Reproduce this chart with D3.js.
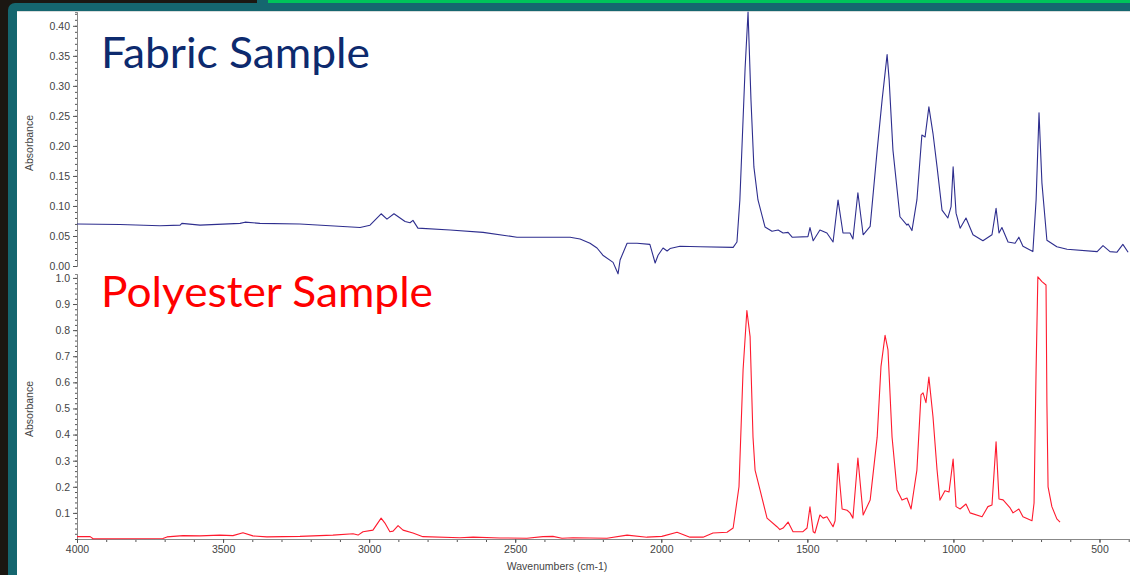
<!DOCTYPE html>
<html>
<head>
<meta charset="utf-8">
<script src="https://cdn.jsdelivr.net/npm/d3@7"></script>
<style>
  body { margin: 0; background: #1b1712; }
  svg { display: block; }
</style>
</head>
<body>
<svg width="1130" height="575"></svg>
<script>
// fabric sample spectrum (top panel)
var fabricWn = [4000, 3853, 3716, 3647, 3641, 3579, 3442, 3425, 3374, 3237, 3134, 3031, 2997, 2959, 2939, 2915, 2877, 2860, 2850, 2833,
    2723, 2610, 2494, 2312, 2278, 2244, 2220, 2200, 2165, 2148, 2141, 2117, 2083, 2039, 2021, 2011, 1994, 1980, 1970, 1936, 1867, 1754,
    1741, 1731, 1713, 1703, 1693, 1683, 1669, 1645, 1621, 1600, 1583, 1566, 1552, 1498, 1491, 1480, 1457, 1433, 1412, 1395, 1378, 1354,
    1344, 1327, 1309, 1285, 1261, 1244, 1227, 1220, 1207, 1183, 1159, 1155, 1142, 1125, 1108, 1097, 1084, 1070, 1056, 1039, 1019, 1008,
    1001, 991, 977, 957, 933, 899, 868, 854, 844, 834, 813, 789, 776, 762, 728, 717, 707, 697, 680, 646, 611, 508, 488, 464, 440, 420, 402];
var fabricAbs = [0.070, 0.069, 0.067, 0.068, 0.071, 0.068, 0.071, 0.073, 0.071, 0.070, 0.067, 0.064, 0.068, 0.087, 0.078, 0.087, 0.074, 0.072, 0.076, 0.063,
    0.060, 0.056, 0.048, 0.048, 0.045, 0.038, 0.030, 0.018, 0.006, -0.013, 0.010, 0.038, 0.038, 0.036, 0.005, 0.018, 0.030, 0.025, 0.029, 0.033, 0.032, 0.031,
    0.040, 0.110, 0.330, 0.423, 0.277, 0.165, 0.110, 0.065, 0.058, 0.060, 0.055, 0.056, 0.048, 0.049, 0.064, 0.042, 0.060, 0.055, 0.040, 0.110, 0.055, 0.055,
    0.045, 0.122, 0.052, 0.066, 0.193, 0.277, 0.352, 0.310, 0.193, 0.082, 0.068, 0.070, 0.059, 0.110, 0.218, 0.215, 0.265, 0.221, 0.165, 0.093, 0.080, 0.099,
    0.165, 0.088, 0.063, 0.080, 0.052, 0.042, 0.052, 0.096, 0.055, 0.064, 0.040, 0.038, 0.048, 0.033, 0.024, 0.110, 0.255, 0.138, 0.043, 0.032, 0.028, 0.024, 0.034, 0.024, 0.023, 0.036, 0.023];

// polyester reference spectrum (bottom panel)
var polyWn = [4000, 3955, 3945, 3706, 3692, 3637, 3579, 3511, 3466, 3432, 3398, 3350, 3237, 3124, 3055, 3038, 3021, 2987, 2959, 2946,
    2929, 2918, 2901, 2884, 2850, 2816, 2689, 2644, 2552, 2460, 2405, 2371, 2340, 2302, 2186, 2117, 2049, 1998, 1946, 1902, 1857, 1823,
    1775, 1754, 1734, 1720, 1707, 1696, 1686, 1679, 1662, 1638, 1604, 1594, 1583, 1566, 1549, 1515, 1501, 1491, 1480, 1474, 1457, 1446,
    1433, 1412, 1405, 1395, 1381, 1364, 1354, 1344, 1327, 1309, 1285, 1261, 1248, 1234, 1224, 1210, 1193, 1176, 1159, 1145, 1125, 1111,
    1104, 1094, 1084, 1070, 1056, 1046, 1029, 1015, 1001, 991, 977, 957, 943, 902, 882, 868, 854, 844, 830, 806, 796, 776, 762, 731, 724,
    717, 711, 697, 683, 680, 676, 663, 646, 635];
var polyAbs = [0.009, 0.009, 0.001, 0.002, 0.008, 0.013, 0.012, 0.015, 0.013, 0.024, 0.012, 0.008, 0.010, 0.015, 0.020, 0.015, 0.028, 0.034, 0.080, 0.061,
    0.028, 0.030, 0.051, 0.034, 0.023, 0.009, 0.005, 0.007, 0.004, 0.003, 0.009, 0.010, 0.003, 0.005, 0.003, 0.015, 0.007, 0.010, 0.026, 0.007, 0.007, 0.023,
    0.026, 0.042, 0.200, 0.647, 0.875, 0.775, 0.390, 0.264, 0.188, 0.080, 0.047, 0.036, 0.042, 0.065, 0.028, 0.028, 0.042, 0.123, 0.028, 0.023, 0.092, 0.080,
    0.085, 0.047, 0.070, 0.290, 0.115, 0.110, 0.100, 0.080, 0.310, 0.092, 0.149, 0.390, 0.660, 0.780, 0.724, 0.390, 0.188, 0.149, 0.157, 0.115, 0.264, 0.552,
    0.560, 0.522, 0.620, 0.469, 0.264, 0.149, 0.185, 0.180, 0.306, 0.124, 0.115, 0.134, 0.100, 0.085, 0.124, 0.130, 0.372, 0.153, 0.150, 0.119, 0.100, 0.115, 0.085, 0.070, 0.138,
    0.647, 1.004, 0.986, 0.973, 0.520, 0.200, 0.124, 0.077, 0.065];

// tick labels
var xTicks = [4000, 3500, 3000, 2500, 2000, 1500, 1000, 500];
var topTicks = [0.00, 0.05, 0.10, 0.15, 0.20, 0.25, 0.30, 0.35, 0.40];
var bottomTicks = [0.1, 0.2, 0.3, 0.4, 0.5, 0.6, 0.7, 0.8, 0.9, 1.0];

var svg = d3.select('svg');
var axisFont = 'Arial, "Liberation Sans", sans-serif';

// slide frame
svg.append('rect').attr('x', 8).attr('y', 3).attr('width', 1140).attr('height', 600).attr('rx', 7).attr('fill', '#15666f');
svg.append('rect').attr('x', 257).attr('y', 0).attr('width', 11).attr('height', 4).attr('fill', '#15666f');
svg.append('rect').attr('x', 268).attr('y', 0).attr('width', 870).attr('height', 3).attr('fill', '#00c25a');
svg.append('rect').attr('x', 17).attr('y', 11).attr('width', 1120).attr('height', 570).attr('fill', '#d9dcdc');
svg.append('rect').attr('x', 17).attr('y', 12).attr('width', 1120).attr('height', 570).attr('fill', '#ffffff');

// scales
var xScale = d3.scaleLinear()
    .domain([4000, 395])
    .range([77, 77 + 3605 * 0.29214]);
var yTop = d3.scaleLinear()
    .domain([0, 0.423])
    .range([266, 12]);
var yBottom = d3.scaleLinear()
    .domain([0, 1.015])
    .range([539, 274]);

var styleAxis = (g) => {
    g.selectAll('path').attr('stroke', '#888');
    g.selectAll('line').attr('stroke', '#555');
    g.selectAll('text').attr('fill', '#444').attr('font-family', axisFont).attr('font-size', 10.5);
};

// y axes with minor ticks
svg.append('g')
    .attr('transform', 'translate(77,0)')
    .call(d3.axisLeft(yTop).tickValues(d3.range(0, 0.4201, 0.01)).tickSize(2).tickFormat(''))
    .call(styleAxis);
svg.append('g')
    .attr('transform', 'translate(77,0)')
    .call(d3.axisLeft(yTop).tickValues(topTicks).tickSize(4).tickSizeOuter(0).tickFormat(d3.format('.2f')))
    .call(styleAxis);
svg.append('g')
    .attr('transform', 'translate(77,0)')
    .call(d3.axisLeft(yBottom).tickValues(d3.range(0, 1.0101, 0.02)).tickSize(2).tickFormat(''))
    .call(styleAxis);
svg.append('g')
    .attr('transform', 'translate(77,0)')
    .call(d3.axisLeft(yBottom).tickValues(bottomTicks).tickSize(4).tickSizeOuter(0).tickFormat(d3.format('.1f')))
    .call(styleAxis);

// x axis
svg.append('g')
    .attr('transform', 'translate(0,539)')
    .call(d3.axisBottom(xScale).tickValues(d3.range(4000, 390, -100)).tickSize(3).tickFormat(''))
    .call(styleAxis);
svg.append('g')
    .attr('transform', 'translate(0,539)')
    .call(d3.axisBottom(xScale).tickValues(xTicks).tickSize(4).tickSizeOuter(0).tickFormat(d3.format('d')))
    .call(styleAxis);

// axis titles
svg.append('text')
    .attr('transform', 'translate(33,143) rotate(-90)')
    .attr('text-anchor', 'middle')
    .attr('font-family', axisFont).attr('font-size', 10.5).attr('fill', '#444')
    .text('Absorbance');
svg.append('text')
    .attr('transform', 'translate(33,409) rotate(-90)')
    .attr('text-anchor', 'middle')
    .attr('font-family', axisFont).attr('font-size', 10.5).attr('fill', '#444')
    .text('Absorbance');
svg.append('text')
    .attr('x', 557).attr('y', 570)
    .attr('text-anchor', 'middle')
    .attr('font-family', axisFont).attr('font-size', 10.5).attr('fill', '#444')
    .text('Wavenumbers (cm-1)');

// spectra
var topLine = d3.line()
    .x(d => xScale(d[0]))
    .y(d => yTop(d[1]));
var bottomLine = d3.line()
    .x(d => xScale(d[0]))
    .y(d => yBottom(d[1]));

svg.append('path')
    .datum(d3.zip(fabricWn, fabricAbs))
    .attr('d', topLine)
    .attr('fill', 'none')
    .attr('stroke', '#2e2e8e')
    .attr('stroke-width', 1.1)
    .attr('stroke-linejoin', 'round');
svg.append('path')
    .datum(d3.zip(polyWn, polyAbs))
    .attr('d', bottomLine)
    .attr('fill', 'none')
    .attr('stroke', '#ff1a2e')
    .attr('stroke-width', 1.1)
    .attr('stroke-linejoin', 'round');

// panel titles
svg.append('text')
    .attr('x', 101).attr('y', 68)
    .attr('font-family', 'Lato, "Open Sans", sans-serif').attr('font-size', 42)
    .attr('textLength', 269).attr('lengthAdjust', 'spacingAndGlyphs')
    .attr('fill', '#0d2a6e')
    .text('Fabric Sample');
svg.append('text')
    .attr('x', 101).attr('y', 307)
    .attr('font-family', 'Lato, "Open Sans", sans-serif').attr('font-size', 42)
    .attr('textLength', 332).attr('lengthAdjust', 'spacingAndGlyphs')
    .attr('fill', '#ff0000')
    .text('Polyester Sample');
</script>
</body>
</html>
